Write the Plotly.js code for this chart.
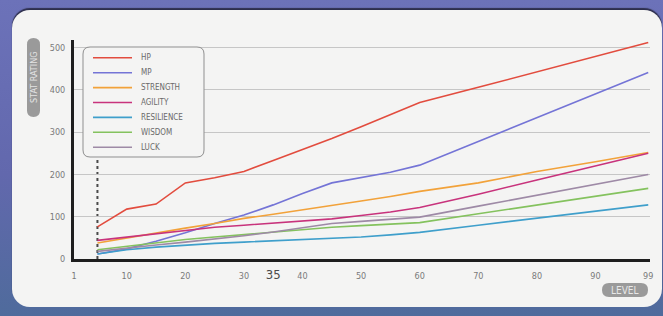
<!DOCTYPE html>
<html>
<head>
<meta charset="utf-8">
<script src="https://cdn.plot.ly/plotly-3.0.1.min.js"></script>
<style>
  html, body { margin:0; padding:0; }
  body { width:663px; height:316px; overflow:hidden; position:relative;
         background: linear-gradient(180deg, #6c72b9 0%, #6268ad 55%, #4f6b9c 100%); }
  #panel { position:absolute; left:12px; top:10px; width:650px; height:297px;
           background:#f4f4f3; border-radius:18px;
           box-shadow: 0 -2px 1px rgba(30,30,50,0.8); }
  #chart { position:absolute; left:0; top:0; width:663px; height:316px; }
</style>
</head>
<body>
<div id="panel"></div>
<div id="chart"></div>
<script>
// ---- data ----
const levels     = [5, 10, 15, 20, 25, 30, 35, 40, 45, 50, 55, 60, 70, 80, 90, 99];
const hp         = [76, 118, 130, 180, 192, 207, 233, 259, 285, 313, 341, 370, 406, 442, 479, 512];
const mp         = [12, 24, 42, 62, 84, 104, 128, 155, 180, 192, 205, 222, 278, 334, 390, 441];
const strength   = [38, 50, 61, 73, 84, 96, 106, 116, 126, 137, 148, 160, 180, 207, 230, 252];
const agility    = [44, 52, 60, 68, 75, 80, 85, 90, 95, 103, 111, 122, 153, 187, 220, 250];
const resilience = [12, 22, 28, 33, 37, 40, 43, 45, 48, 52, 57, 63, 80, 97, 113, 128];
const wisdom     = [22, 30, 38, 46, 52, 58, 64, 70, 75, 79, 82, 86, 107, 128, 148, 167];
const luck       = [18, 26, 33, 40, 47, 55, 64, 74, 84, 89, 94, 99, 125, 151, 178, 200];
const seriesNames = ['HP', 'MP', 'STRENGTH', 'AGILITY', 'RESILIENCE', 'WISDOM', 'LUCK'];
const xTickValues = [1, 10, 20, 30, 35, 40, 50, 60, 70, 80, 90, 99];
const yTickValues = [0, 100, 200, 300, 400, 500];
const startLevel = 5;
const yAxisLabel = 'STAT RATING';
const xAxisLabel = 'LEVEL';

// ---- styles ----
const seriesData = [hp, mp, strength, agility, resilience, wisdom, luck];
const seriesColors = ['#e24c3e', '#7474d6', '#f2a23a', '#c8337c', '#3f9fcb', '#84c25e', '#9e8aa6'];
const FONT = '"Liberation Sans Narrow", "DejaVu Sans Condensed", "Roboto Condensed", "Liberation Sans", Arial, sans-serif';

// plot area geometry (pixels)
const L = 74, R = 650, T = 40, B = 259;
const W = R - L, H = B - T;
const px = x => (x - L) / W;
const py = y => (B - y) / H;

function roundedRect(w, h, r) {
  const a = w / 2, b = h / 2;
  return `M ${-a + r},${-b} L ${a - r},${-b} Q ${a},${-b} ${a},${-b + r} L ${a},${b - r} Q ${a},${b} ${a - r},${b} ` +
         `L ${-a + r},${b} Q ${-a},${b} ${-a},${b - r} L ${-a},${-b + r} Q ${-a},${-b} ${-a + r},${-b} Z`;
}

const traces = seriesData.map((vals, i) => ({
  type: 'scatter', mode: 'lines', x: levels, y: vals, name: seriesNames[i],
  line: { color: seriesColors[i], width: 1.6 }, hoverinfo: 'skip', showlegend: false
}));

const legendTop = 47, legendBottom = 157;

const shapes = [
  { type: 'line', xref: 'x', yref: 'paper', x0: startLevel, x1: startLevel, y0: 0, y1: py(legendBottom),
    line: { color: '#4a4a4a', width: 2, dash: 'dot' }, layer: 'below' },
  // legend box
  { type: 'path', xref: 'paper', yref: 'paper', xsizemode: 'pixel', ysizemode: 'pixel',
    xanchor: px(143.5), yanchor: py((legendTop + legendBottom) / 2),
    path: roundedRect(121, legendBottom - legendTop, 7),
    fillcolor: '#f4f4f3', line: { color: '#8f8f8f', width: 1 }, layer: 'above' },
  // axis label pills
  { type: 'path', xref: 'paper', yref: 'paper', xsizemode: 'pixel', ysizemode: 'pixel',
    xanchor: px(33.5), yanchor: py(77.5), path: roundedRect(13, 79, 6.5),
    fillcolor: '#9a9a9a', line: { width: 0 }, layer: 'above' },
  { type: 'path', xref: 'paper', yref: 'paper', xsizemode: 'pixel', ysizemode: 'pixel',
    xanchor: px(625), yanchor: py(290), path: roundedRect(46, 14, 7),
    fillcolor: '#9a9a9a', line: { width: 0 }, layer: 'above' }
];

const annotations = [
  { xref: 'paper', yref: 'paper', x: px(33.5), y: py(77.5), text: yAxisLabel, showarrow: false,
    textangle: -90, xanchor: 'center', yanchor: 'middle', font: { family: FONT, size: 9, color: '#e4e4e4' } },
  { xref: 'paper', yref: 'paper', x: px(625), y: py(290), text: xAxisLabel, showarrow: false,
    xanchor: 'center', yanchor: 'middle', font: { family: FONT, size: 10, color: '#e8e8e8' } }
];

seriesNames.forEach((name, i) => {
  const yc = 57.8 + i * 14.9;
  shapes.push({ type: 'line', xref: 'paper', yref: 'paper', x0: px(93), x1: px(132), y0: py(yc), y1: py(yc),
                line: { color: seriesColors[i], width: 1.6 }, layer: 'above' });
  annotations.push({ xref: 'paper', yref: 'paper', x: px(139), y: py(yc), text: name, showarrow: false,
                     xanchor: 'left', yanchor: 'middle', font: { family: FONT, size: 8, color: '#6a6a6a' } });
});

const ticktext = xTickValues.map(v => v === 35
  ? '<span style="font-size:13px;fill:#4a4a4a">35</span>' : String(v));

const layout = {
  width: 663, height: 316,
  margin: { l: L, r: 663 - R, t: T, b: 316 - B, pad: 0 },
  paper_bgcolor: 'rgba(0,0,0,0)', plot_bgcolor: 'rgba(0,0,0,0)',
  showlegend: false,
  xaxis: {
    range: [1, 99.3], tickmode: 'array', tickvals: xTickValues, ticktext: ticktext,
    showgrid: false, zeroline: false, showline: true, linecolor: '#1e1e1e', linewidth: 3,
    ticks: '', ticklabelstandoff: 6, tickfont: { family: FONT, size: 9, color: '#7a7a7a' }
  },
  yaxis: {
    range: [0, 518], tickmode: 'array', tickvals: yTickValues,
    showgrid: true, gridcolor: '#c6c6c6', gridwidth: 1, zeroline: false,
    showline: true, linecolor: '#1e1e1e', linewidth: 3,
    ticks: '', ticklabelstandoff: 4, tickfont: { family: FONT, size: 9, color: '#7a7a7a' }
  },
  shapes: shapes,
  annotations: annotations
};

Plotly.newPlot('chart', traces, layout, { displayModeBar: false, staticPlot: true });
</script>
</body>
</html>
